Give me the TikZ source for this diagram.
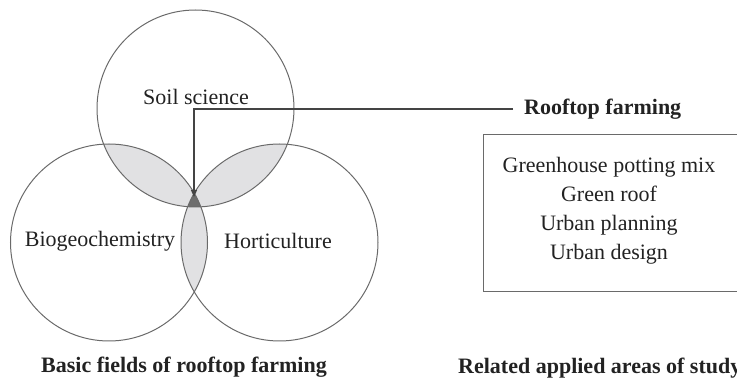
\documentclass[tikz,border=0pt]{standalone}
\usepackage{fontspec}
\setmainfont{Liberation Serif}
\usetikzlibrary{arrows.meta}
\definecolor{lightfill}{HTML}{E1E1E3}
\definecolor{darkfill}{HTML}{6E6E6E}
\definecolor{strokec}{HTML}{6A6A6A}
\definecolor{arrowc}{HTML}{444444}
\definecolor{textc}{HTML}{222222}
\tikzset{
  lbl/.style={font=\fontsize{22}{29}\selectfont, text=textc, inner sep=0pt},
  blbl/.style={lbl, font=\fontsize{22}{29}\selectfont\bfseries},
  circ/.style={draw=strokec, line width=1pt},
  conn/.style={draw=arrowc, line width=1.2pt, -{Triangle[length=7pt,width=6pt]}},
}
\begin{document}
\begin{tikzpicture}[x=1pt,y=-1pt]
\useasboundingbox (0,0) rectangle (737,379);
\clip (0,0) rectangle (737,379);
\def\CA{(195.5,108.5) circle (98.5)}
\def\CB{(109,242.5) circle (98.5)}
\def\CC{(279.5,242.5) circle (98.5)}
% pairwise intersections
\begin{scope}
  \clip \CA;
  \fill[lightfill] \CB;
  \fill[lightfill] \CC;
\end{scope}
\begin{scope}
  \clip \CB;
  \fill[lightfill] \CC;
\end{scope}
% triple intersection
\begin{scope}
  \clip \CA;
  \clip \CB;
  \fill[darkfill] \CC;
\end{scope}
\draw[circ] \CA;
\draw[circ] \CB;
\draw[circ] \CC;
% labels
\node[lbl] (soil) at (196,97) {Soil science};
\node[lbl] (bio) at (100,241) {Biogeochemistry};
\node[lbl] (hort) at (278,241) {Horticulture};
\node[blbl] (basic) at (184,367) {Basic fields of rooftop farming};
\node[blbl, anchor=west] (roof) at (524,109) {Rooftop farming};
\node[blbl, anchor=west] (rel) at (458,368) {Related applied areas of study};
% box
\node[draw=strokec, line width=1.2pt, anchor=north west, minimum width=280pt, minimum height=157pt, inner sep=0pt] (box) at (483,134) {};
\node[lbl, align=center] (list) at (609,210.5) {Greenhouse potting mix\\Green roof\\Urban planning\\Urban design};
% connector
\coordinate (tri) at (194,197);
\draw[conn] ([xshift=-11pt]roof.west) -| (tri);
\end{tikzpicture}
\end{document}
